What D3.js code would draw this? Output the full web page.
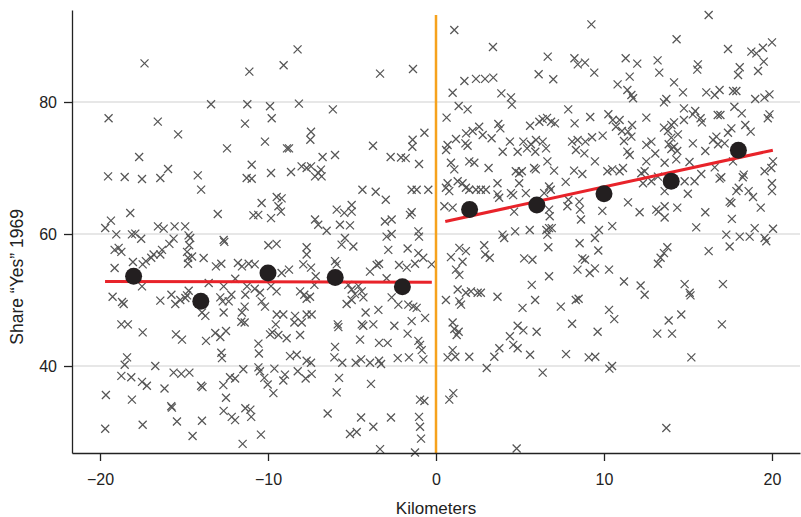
<!DOCTYPE html>
<html>
<head>
<meta charset="utf-8">
<script src="https://cdn.jsdelivr.net/npm/d3@7"></script>
<style>
  body { margin: 0; background: #fff; }
  svg { font-family: "Liberation Sans", Arial, sans-serif; }
</style>
</head>
<body>
<div id="plot"></div>
<script>
// scatter: [kilometers, share "yes" 1969]
const scatter = [
  [-17.35,85.86],[-11.11,84.60],[-13.39,79.65],[-11.23,79.65],[-19.49,77.53],[-16.56,77.02],[-11.37,76.72],[-15.35,75.10],[-12.44,72.98],[-17.67,71.67],
  [-8.24,87.98],[-9.07,85.56],[-3.33,84.30],[-1.37,85.00],[-9.88,79.35],[-9.78,77.53],[-8.16,79.75],[-6.14,78.89],[-10.18,73.99],[-8.87,72.98],[-8.75,72.98],[-7.44,75.50],[-7.48,74.29],[-6.75,71.67],[-6.01,71.97],[-3.75,73.38],[-2.70,71.67],[-2.08,71.6],[-1.80,71.5],[-1.39,74.29],[-1.41,73.23],[-0.69,75.35],
  [1.09,90.91],[9.25,91.77],[3.39,88.33],[6.65,86.87],[8.24,86.62],[8.44,85.71],[8.87,85.96],[9.42,84.45],[6.11,84.20],[6.98,83.44],[1.69,83.18],[2.38,83.5],[2.92,83.5],[3.41,83.7],[0.99,81.41],[3.89,81.31],[4.46,80.7],[4.52,79.6],[1.35,79.40],[1.88,78.89],[0.63,77.63],[7.87,78.89],[8.25,76.77],[9.18,77.73],[10.26,78.14],[10.52,77.27],[10.81,82.68],[10.71,76.26],[2.57,76.26],[2.18,75.61],[1.79,75.25],[1.19,74.40],[0.69,73.49],[0.60,72.73],[1.75,73.74],[1.88,73.38],[2.78,75.0],[3.31,74.5],[3.71,76.67],[3.83,76.01],[5.60,76.4],[6.15,77.0],[6.35,77.4],[6.61,77.6],[6.85,77.0],[7.08,76.77],[3.97,72.47],[4.40,73.99],[4.86,72.47],[5.20,73.99],[5.42,72.98],[5.65,73.59],[5.95,74.24],[5.91,72.47],[6.35,73.99],[6.55,72.98],[8.10,73.99],[8.43,74.24],[8.33,72.73],[8.83,72.22],[8.89,73.99],[9.29,74.65],[9.92,74.90],
  [16.23,93.18],[14.32,89.50],[17.38,88.03],[18.77,87.63],[19.07,87.37],[19.46,88.23],[20.00,89.04],[19.51,86.11],[11.29,86.62],[11.98,85.81],[13.19,86.31],[13.29,84.45],[15.59,85.71],[15.55,84.9],[18.08,85.26],[17.98,84.09],[19.17,84.70],[11.53,83.84],[11.39,81.82],[11.63,81.06],[11.73,80.56],[14.17,82.98],[14.70,81.46],[16.09,81.46],[16.59,81.06],[16.88,81.82],[17.68,81.67],[17.88,81.67],[13.57,79.95],[13.71,80.45],[19.0,80.45],[19.55,80.66],[19.85,81.16],[10.93,77.27],[11.67,76.52],[11.43,75.51],[11.07,75.61],[11.63,74.75],[11.19,74.09],[11.39,72.48],[11.53,71.97],[12.52,77.63],[14.76,79.04],[15.43,78.63],[15.29,78.13],[15.75,77.53],[15.83,76.92],[16.77,78.03],[16.93,78.03],[17.76,79.29],[18.20,78.28],[19.85,78.13],[19.75,77.53],[13.57,76.11],[14.01,76.52],[14.17,76.92],[13.81,75.61],[14.40,75.10],[14.01,74.60],[14.76,77.27],[17.38,75.35],[17.58,76.01],[18.41,76.52],[18.73,75.51],[12.82,74.0],[12.52,73.5],[13.05,72.2],[13.85,73.59],[14.17,73.23],[14.36,72.58],[14.01,72.88],[15.29,73.74],[16.03,72.58],[16.49,74.24],[16.69,74.75],[16.79,73.59],[17.18,73.74],
  [-19.52,68.74],[-18.53,68.64],[-17.50,68.33],[-16.41,68.48],[-15.95,69.85],[-14.18,68.89],[-13.98,66.72],[-11.27,68.48],[-10.97,68.38],[-10.97,70.5],[-18.2,63.18],[-19.35,62.02],[-19.69,60.91],[-12.99,63.03],[-10.87,62.83],[-19.03,59.95],[-18.10,59.95],[-17.90,60.05],[-17.55,59.29],[-16.55,61.16],[-16.21,60.81],[-15.56,61.16],[-14.93,61.16],[-14.73,59.8],[-14.63,59.4],[-14.69,58.3],[-14.82,57.3],[-14.76,56.4],[-14.52,56.6],[-14.76,55.5],[-15.62,59.3],[-15.87,58.5],[-16.31,57.6],[-16.41,56.9],[-16.81,56.9],[-16.95,56.4],[-17.27,55.9],[-17.46,55.4],[-19.13,57.6],[-18.89,57.9],[-18.73,57.3],[-18.04,55.76],[-19.13,54.85],[-13.83,56.36],[-12.64,59.1],[-12.60,58.8],[-13.10,55.1],[-12.78,55.5],[-11.79,55.6],[-11.55,55.1],[-11.15,55.5],[-10.79,55.4],[-13.53,52.58],[-17.5,52.07],[-11.95,53.23],[-12.64,52.07],[-12.18,50.8],[-12.84,50.4],[-12.70,49.8],[-12.34,49.8],[-11.25,52.07],[-11.35,50.8],[-11.39,49.0],[-10.79,51.7],[-14.72,51.4],[-14.82,50.7],[-14.92,50.3],[-15.22,50.0],[-15.52,49.4],[-15.75,50.8],[-16.41,49.9],[-19.25,50.5],[-18.69,49.7],[-18.59,49.4],
  [-8.00,70.25],[-7.70,70.0],[-7.44,70.25],[-7.20,68.74],[-7.01,69.24],[-6.81,68.74],[-6.85,69.75],[-9.82,69.24],[-8.63,69.39],[-1.01,70.6],[-4.38,66.7],[-3.59,66.4],[-2.99,65.2],[-1.45,66.7],[-1.15,66.7],[-0.46,66.7],[-10.38,64.7],[-10.58,62.9],[-9.82,62.4],[-9.48,65.6],[-9.19,65.4],[-9.38,64.2],[-9.23,63.4],[-7.20,62.2],[-7.01,61.4],[-6.51,60.5],[-5.91,63.7],[-5.46,63.2],[-5.02,64.4],[-5.02,63.4],[-5.72,61.4],[-5.12,61.3],[-5.42,59.4],[-5.62,58.4],[-4.92,58.1],[-3.04,61.9],[-2.64,62.2],[-2.94,59.6],[-2.64,60.0],[-2.84,57.6],[-1.55,62.9],[-1.45,63.3],[-1.05,60.4],[-1.01,59.6],[-1.69,57.8],[-1.05,57.1],[-0.76,56.4],[-0.26,55.4],[-9.98,58.3],[-9.49,58.5],[-7.70,58.0],[-7.70,56.9],[-7.90,55.4],[-7.44,54.9],[-6.01,55.9],[-5.91,55.4],[-9.19,54.1],[-8.75,54.6],[-7.16,53.6],[-3.93,54.3],[-3.53,55.3],[-3.39,55.5],[-2.20,55.3],[-1.74,54.9],[-1.25,55.5],[-2.94,53.3],[-10.48,51.1],[-10.38,49.8],[-10.18,49.0],[-9.82,52.1],[-9.49,51.3],[-8.09,51.3],[-7.84,50.8],[-7.70,50.2],[-7.50,50.5],[-7.24,52.3],[-5.22,52.3],[-5.02,51.6],[-4.82,50.9],[-4.62,52.1],[-4.42,51.3],[-4.32,50.4],[-5.02,50.0],[-5.32,49.4],[-3.43,48.5],[-2.64,50.4],[-2.24,49.3],[-1.65,49.3],[-1.35,49.0],[-1.15,48.8],
  [0.89,70.8],[1.09,69.8],[1.98,71.0],[2.28,70.8],[3.13,70.0],[4.75,69.5],[4.95,69.2],[5.11,69.5],[5.84,70.0],[5.94,69.8],[6.63,71.0],[7.03,69.6],[8.22,69.6],[8.71,69.1],[9.46,71.0],[10.20,69.5],[10.49,69.8],[0.69,67.7],[0.59,67.0],[0.79,66.5],[1.29,68.0],[1.58,67.7],[1.78,67.0],[1.98,66.7],[2.38,66.7],[2.67,66.7],[2.97,66.7],[0.50,64.2],[0.99,64.0],[3.66,67.7],[3.66,66.0],[3.76,65.5],[4.46,66.2],[4.59,65.9],[4.95,67.7],[5.35,66.2],[4.65,63.4],[6.44,66.2],[6.73,67.2],[6.83,66.7],[6.73,63.7],[6.77,62.7],[7.72,67.9],[7.88,65.2],[7.82,64.2],[8.53,64.9],[8.57,63.7],[8.63,62.2],[9.90,63.5],[3.96,59.9],[4.06,59.4],[4.71,60.4],[5.58,60.6],[6.57,60.6],[6.73,60.9],[6.89,60.9],[6.63,59.9],[6.69,58.0],[9.70,60.6],[10.49,61.2],[9.46,59.4],[9.66,57.5],[8.55,58.6],[0.89,56.5],[1.39,57.9],[1.78,57.4],[1.58,55.8],[1.19,54.6],[1.39,53.8],[2.87,58.3],[2.93,56.9],[3.2,56.4],[5.25,56.3],[5.74,56.1],[8.42,54.6],[8.71,56.3],[8.87,56.1],[9.15,54.1],[9.46,54.8],[10.30,54.6],[6.73,53.6],[5.70,52.3],[0.59,50.0],[1.29,51.6],[1.39,49.8],[1.49,49.3],[1.78,51.1],[2.08,51.3],[2.48,51.1],[2.67,51.1],[3.66,50.5],[5.15,48.8],[5.90,50.0],[7.43,49.0],[8.32,50.0],[8.49,50.2],[10.30,48.5],
  [12.52,71.0],[13.61,70.8],[14.30,71.3],[15.09,70.9],[11.13,70.0],[10.93,69.5],[12.42,69.5],[12.22,69.2],[12.32,67.7],[13.21,68.7],[12.82,68.0],[14.80,68.0],[15.39,68.0],[15.79,69.1],[16.59,70.1],[16.98,68.6],[16.88,68.4],[17.68,71.0],[18.32,69.0],[18.26,68.6],[19.56,69.5],[19.96,70.0],[20.06,71.0],[20.0,67.7],[20.0,66.5],[17.88,66.5],[18.02,67.0],[18.61,66.5],[18.87,65.6],[19.33,64.0],[17.48,64.9],[17.58,64.7],[13.61,66.5],[14.99,66.1],[11.43,64.8],[12.12,63.3],[13.11,63.7],[13.25,63.4],[13.61,64.2],[13.61,62.5],[14.36,64.0],[16.03,63.3],[17.61,62.3],[15.49,61.0],[17.28,59.9],[18.08,59.6],[18.67,59.6],[18.97,60.9],[19.56,59.4],[19.66,58.9],[20.06,60.8],[17.48,58.1],[16.23,57.4],[13.77,58.0],[13.57,57.1],[13.37,56.4],[13.21,55.5],[11.19,52.8],[12.18,52.2],[12.42,50.8],[14.80,52.4],[15.10,51.1],[15.15,50.7],[17.08,52.4],
  [-18.73,46.3],[-18.34,46.3],[-17.46,45.1],[-15.48,44.8],[-15.12,44.0],[-13.93,48.1],[-13.73,47.6],[-12.64,48.1],[-11.55,48.1],[-11.59,46.7],[-11.39,46.6],[-13.14,45.0],[-12.84,44.4],[-12.50,45.3],[-13.69,43.8],[-12.78,42.0],[-12.74,41.2],[-18.39,41.3],[-18.53,40.2],[-18.73,38.5],[-18.14,38.3],[-16.71,40.0],[-15.62,39.0],[-15.16,38.8],[-14.68,39.0],[-17.50,37.6],[-17.21,37.0],[-16.16,36.6],[-13.98,37.0],[-13.90,36.8],[-12.66,37.1],[-12.26,38.3],[-11.96,38.1],[-11.47,39.5],[-19.65,35.6],[-18.10,34.9],[-15.76,33.9],[-15.72,33.7],[-12.50,35.2],[-12.64,33.2],[-12.16,32.3],[-11.96,31.8],[-11.35,33.6],[-11.05,33.4],[-11.0,32.3],[-19.69,30.5],[-17.46,31.1],[-15.42,31.6],[-13.93,31.7],[-14.49,29.4],[-11.51,28.2],
  [-9.48,47.8],[-9.09,47.8],[-8.39,47.6],[-8.43,46.6],[-7.99,46.6],[-7.70,47.8],[-7.40,47.8],[-9.54,46.3],[-9.88,44.8],[-9.74,45.1],[-9.38,44.7],[-8.89,44.2],[-8.09,44.7],[-10.57,43.4],[-10.54,41.9],[-8.69,41.5],[-8.29,41.7],[-7.70,40.8],[-7.44,40.5],[-10.57,39.8],[-10.48,39.2],[-9.62,39.6],[-10.22,38.2],[-10.02,37.2],[-9.68,35.9],[-8.99,38.7],[-9.09,37.8],[-8.23,39.2],[-7.76,38.1],[-7.40,38.8],[-5.85,46.3],[-5.81,45.9],[-6.01,42.9],[-6.05,41.3],[-5.58,40.5],[-5.77,38.2],[-5.91,36.0],[-4.42,46.3],[-4.33,46.1],[-3.73,46.3],[-4.19,48.1],[-2.48,46.1],[-1.69,44.9],[-4.52,44.0],[-3.39,43.5],[-2.88,43.5],[-4.78,40.5],[-4.46,41.0],[-3.93,40.5],[-3.39,40.8],[-3.27,40.3],[-2.28,41.2],[-1.61,41.3],[-0.75,41.0],[-1.45,46.8],[-0.65,47.3],[-1.05,43.8],[-0.95,43.2],[-0.85,42.4],[-3.87,37.3],[-0.95,34.9],[-0.69,34.7],[-6.45,32.8],[-4.46,32.2],[-3.73,30.8],[-2.68,32.2],[-5.12,29.7],[-4.72,30.0],[-1.01,32.3],[-0.95,30.8],[-0.89,29.0],[-10.42,29.6],[-3.33,27.4],[-1.25,26.9],
  [0.99,46.6],[1.09,45.6],[1.35,45.2],[1.23,44.7],[4.86,46.1],[5.20,45.4],[5.99,45.2],[4.40,44.5],[4.60,43.2],[4.86,42.7],[8.10,46.4],[9.62,45.2],[10.61,47.1],[0.99,42.4],[0.69,41.3],[1.15,41.4],[1.98,41.4],[3.47,41.4],[3.77,42.7],[3.02,39.7],[5.60,41.7],[6.35,39.0],[7.74,41.8],[9.09,41.3],[9.48,41.4],[10.32,39.6],[10.48,40.0],[0.79,34.9],[1.03,35.9],[4.80,27.5],
  [13.85,46.9],[14.60,47.8],[13.17,44.9],[14.05,44.9],[17.02,46.3],[15.20,41.3],[13.71,30.6]
];

// bin means
const binKm = [-18, -14, -10, -6, -2, 2, 6, 10, 14, 18];
const binShare = [53.6, 49.8, 54.1, 53.4, 52.0, 63.7, 64.4, 66.1, 68.0, 72.7];

// linear fits either side of the border
const fitLeft = [[-19.7, 52.8], [-0.25, 52.7]];
const fitRight = [[0.55, 61.9], [20.05, 72.7]];

const xTicks = [-20, -10, 0, 10, 20];
const yTicks = [40, 60, 80];

const width = 801, height = 517;
const margin = { top: 10, right: 1, bottom: 64, left: 72 };

const svg = d3.select("#plot").append("svg")
  .attr("width", width)
  .attr("height", height);

const x = d3.scaleLinear()
  .domain([-21.667, 21.667])
  .range([margin.left, width - margin.right]);

const y = d3.scaleLinear()
  .domain([26.82, 93.94])
  .range([height - margin.bottom, margin.top]);

// grid lines
svg.append("g")
  .selectAll("line")
  .data(yTicks)
  .join("line")
  .attr("x1", margin.left)
  .attr("x2", width - margin.right)
  .attr("y1", d => y(d))
  .attr("y2", d => y(d))
  .attr("stroke", "#cfcfcf")
  .attr("stroke-width", 1);

// scatter crosses
const s = 4;
svg.append("g")
  .selectAll("path")
  .data(scatter)
  .join("path")
  .attr("transform", d => `translate(${x(d[0])},${y(d[1])})`)
  .attr("d", `M${-s},${-s}L${s},${s}M${-s},${s}L${s},${-s}`)
  .attr("stroke", "#555")
  .attr("stroke-width", 1.25)
  .attr("fill", "none");

// border line
svg.append("line")
  .attr("x1", x(0)).attr("x2", x(0))
  .attr("y1", 15).attr("y2", y.range()[0])
  .attr("stroke", "#f6a21d")
  .attr("stroke-width", 2.5);

// fit lines
const line = d3.line().x(d => x(d[0])).y(d => y(d[1]));
[fitLeft, fitRight].forEach(f => {
  svg.append("path")
    .datum(f)
    .attr("d", line)
    .attr("fill", "none")
    .attr("stroke", "#e8232a")
    .attr("stroke-width", 3);
});

// bin means
svg.append("g")
  .selectAll("circle")
  .data(binKm)
  .join("circle")
  .attr("cx", d => x(d))
  .attr("cy", (d, i) => y(binShare[i]))
  .attr("r", 8.5)
  .attr("fill", "#231f20");

// axes
const fmt = d => d < 0 ? "\u2212" + Math.abs(d) : String(d);

const xAxis = svg.append("g")
  .attr("transform", `translate(0,${y.range()[0]})`)
  .call(d3.axisBottom(x).tickValues(xTicks).tickFormat(fmt).tickSize(8).tickSizeOuter(0).tickPadding(13));

const yAxis = svg.append("g")
  .attr("transform", `translate(${margin.left},0)`)
  .call(d3.axisLeft(y).tickValues(yTicks).tickSize(8).tickSizeOuter(0).tickPadding(7));

[xAxis, yAxis].forEach(a => {
  a.select(".domain").attr("stroke", "#222").attr("stroke-width", 1.3);
  a.selectAll(".tick line").attr("stroke", "#222").attr("stroke-width", 1.3);
  a.selectAll(".tick text").attr("fill", "#222").style("font-size", "16px")
    .style("font-family", "'Liberation Sans', Arial, sans-serif");
});

svg.append("text")
  .attr("x", x(0))
  .attr("y", 514)
  .attr("text-anchor", "middle")
  .attr("fill", "#222")
  .style("font-size", "17px")
  .text("Kilometers");

svg.append("text")
  .attr("transform", `translate(23,${y(53.5)}) rotate(-90)`)
  .attr("text-anchor", "middle")
  .attr("fill", "#222")
  .style("font-size", "17.5px")
  .text("Share \u201cYes\u201d 1969");
</script>
</body>
</html>
